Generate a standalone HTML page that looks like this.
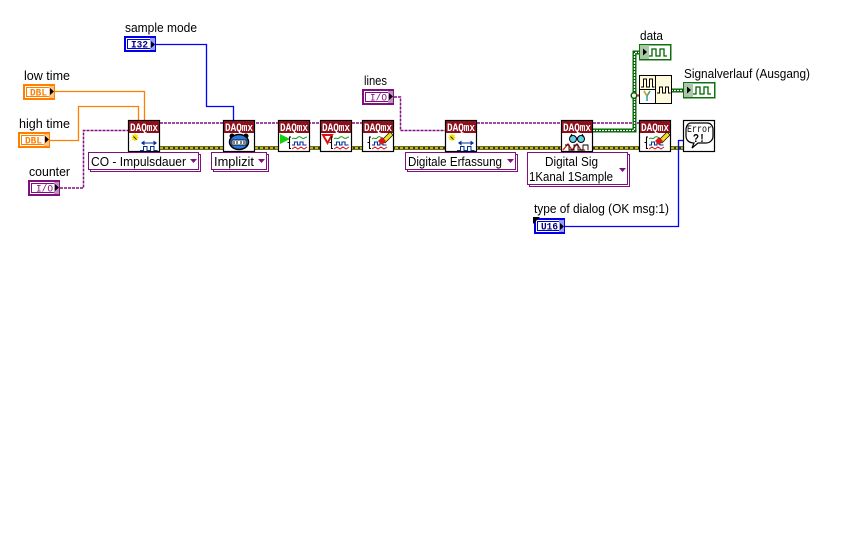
<!DOCTYPE html>
<html><head><meta charset="utf-8"><style>
html,body{margin:0;padding:0;background:#fff;width:864px;height:540px;overflow:hidden}
svg{display:block}
text{font-family:"Liberation Sans",sans-serif;font-size:12.5px;fill:#000}
.d{font-family:"Liberation Mono",monospace;font-size:11px;font-weight:bold;fill:#fff}
.t{font-family:"Liberation Mono",monospace;font-size:10px;font-weight:bold}
.w{fill:none}
</style></head><body>
<svg width="864" height="540" viewBox="0 0 864 540" xmlns="http://www.w3.org/2000/svg">
<defs>
<g id="n"><rect x="0.5" y="0.5" width="31" height="31" fill="#fff" stroke="#000" stroke-width="1.200"/><rect x="1" y="1" width="30" height="12" fill="#8c0f1c"/></g>
<g id="cfg"><path d="M7 14v7M3.500 17.500h7M4.500 15l5 5M9.500 15l-5 5" stroke="#f0e000" stroke-width="1.500"/><path d="M5.500 16.500l3 3" stroke="#000" stroke-width=".8"/><path d="M14 23h14" stroke="#00329a"/><path d="M13 23l3.500-2.500v5zM29 23l-3.500-2.500v5z" fill="#00329a"/><path d="M12 30.500h3.500v-4h3.500v4h3.500v-4h3.500v4h3.500" fill="none" stroke="#00329a" shape-rendering="crispEdges"/></g>
<g id="wv"><path d="M9 17h-1.500v5.500h-2h2v6h1.500" fill="none" stroke="#000" stroke-width="1.100"/><path d="M10 19c2-2.500 3 1 5-1s3-1.500 5 0 3-1 5-1" fill="none" stroke="#00a000"/><path d="M10 25h2.500v-3h3v3h2.500v-3h3v3h3.500" fill="none" stroke="#00329a" stroke-width="1.100"/><path d="M10 29l3-2 3 2 3-2 3 2 3-2" fill="none" stroke="#e01010"/></g>
<g id="eras"><path d="M20 20l8-8 3 3-8 8z" fill="#f4dc20" stroke="#000" stroke-width=".7"/><path d="M16 21l4-4 4 4-4 4z" fill="#d81818"/></g>
</defs>

<!-- error wires -->
<g class="w">
<path d="M160 148H639M671 148H683" stroke="#3a3a00" stroke-width="3.600"/>
<path d="M160 148H639M671 148H683" stroke="#f0e800" stroke-width="1.600" stroke-dasharray="3 2"/>
</g>

<!-- purple wires -->
<g class="w" stroke="#800f80" stroke-width="1.500" stroke-dasharray="3 1">
<path d="M160 123H362M477 123H639"/>
<path d="M60 188H83.500V130.500H128M394 97H400.500V130.500H445"/>
</g>

<!-- orange wires -->
<g class="w" stroke="#ff8000" stroke-width="1.300">
<path d="M55 91.500H144.500V120"/>
<path d="M50 140.500H78.500V106.500H138.500V120"/>
</g>
<!-- blue wires -->
<g class="w" stroke="#0000ff" stroke-width="1.300">
<path d="M156 44.500H206.500V106.500H233.500V120"/>
<path d="M565 226.500H678.500V140.500H683"/>
</g>

<!-- green waveform wires -->
<g class="w">
<path d="M593 130.500H634.500V52.500H640M671 90.500H684" stroke="#006400" stroke-width="4"/>
<path d="M593 130.500H634.500V52.500H640M671 90.500H684" stroke="#fff" stroke-width="1.300" stroke-dasharray="2 1"/>
</g>
<circle cx="634" cy="95.500" r="2.800" fill="#fff" stroke="#006400" stroke-width="1.500"/>
<path d="M637 95.500h3" stroke="#e01010" stroke-width="2"/>

<!-- labels -->
<text x="125" y="32" textLength="72" lengthAdjust="spacingAndGlyphs">sample mode</text>
<text x="24" y="80" textLength="46" lengthAdjust="spacingAndGlyphs">low time</text>
<text x="19" y="128" textLength="51" lengthAdjust="spacingAndGlyphs">high time</text>
<text x="29" y="176" textLength="41" lengthAdjust="spacingAndGlyphs">counter</text>
<text x="364" y="85" textLength="23" lengthAdjust="spacingAndGlyphs">lines</text>
<text x="640" y="40" textLength="23" lengthAdjust="spacingAndGlyphs">data</text>
<text x="684" y="78" textLength="126" lengthAdjust="spacingAndGlyphs">Signalverlauf (Ausgang)</text>
<text x="534" y="213" textLength="135" lengthAdjust="spacingAndGlyphs">type of dialog (OK msg:1)</text>

<!-- terminals -->
<g shape-rendering="crispEdges">
<rect x="125" y="37" width="30" height="14" fill="#fff" stroke="#0000e0" stroke-width="2"/><rect x="127.500" y="39.500" width="25" height="9" fill="#fff" stroke="#0000e0"/><rect x="150" y="38" width="5" height="12" fill="#9a9aff"/>
<rect x="24" y="85" width="30" height="14" fill="#fff" stroke="#ff8000" stroke-width="2"/><rect x="26.500" y="87.500" width="25" height="9" fill="#fff" stroke="#ff8000"/><rect x="49" y="86" width="5" height="12" fill="#ffc080"/>
<rect x="19" y="133" width="30" height="14" fill="#fff" stroke="#ff8000" stroke-width="2"/><rect x="21.500" y="135.500" width="25" height="9" fill="#fff" stroke="#ff8000"/><rect x="44" y="134" width="5" height="12" fill="#ffc080"/>
<rect x="29" y="181" width="30" height="14" fill="#fff" stroke="#800f80" stroke-width="2"/><rect x="31.500" y="183.500" width="25" height="9" fill="#fff" stroke="#800f80"/><rect x="54" y="182" width="5" height="12" fill="#c090c0"/>
<rect x="363" y="90" width="30" height="14" fill="#fff" stroke="#800f80" stroke-width="2"/><rect x="365.500" y="92.500" width="25" height="9" fill="#fff" stroke="#800f80"/><rect x="388" y="91" width="5" height="12" fill="#c090c0"/>
<rect x="535" y="219" width="29" height="14" fill="#fff" stroke="#0000e0" stroke-width="2"/><rect x="537.500" y="221.500" width="24" height="9" fill="#fff" stroke="#0000e0"/><rect x="559" y="220" width="5" height="12" fill="#9a9aff"/>
<rect x="639.500" y="44.500" width="31" height="15" fill="#fff" stroke="#107010" stroke-width="1.500"/><rect x="640" y="45" width="9" height="14" fill="#a8c8a8"/>
<rect x="683.500" y="82.500" width="31" height="15" fill="#fff" stroke="#107010" stroke-width="1.500"/><rect x="684" y="83" width="9" height="14" fill="#a8c8a8"/>
</g>
<text class="t" x="131" y="47.500" style="fill:#00008c" textLength="17" lengthAdjust="spacingAndGlyphs">I32</text>
<text class="t" x="30" y="95.500" style="fill:#ff8000" textLength="17" lengthAdjust="spacingAndGlyphs">DBL</text>
<text class="t" x="25" y="143.500" style="fill:#ff8000" textLength="17" lengthAdjust="spacingAndGlyphs">DBL</text>
<text class="t" x="36" y="191.500" style="fill:#800f80;font-weight:normal" textLength="17" lengthAdjust="spacingAndGlyphs">I/O</text>
<text class="t" x="370" y="100.500" style="fill:#800f80;font-weight:normal" textLength="17" lengthAdjust="spacingAndGlyphs">I/O</text>
<text class="t" x="541" y="229.500" style="fill:#00008c" textLength="17" lengthAdjust="spacingAndGlyphs">U16</text>
<path d="M533 217h7l-7 7z" fill="#000"/>
<path d="M151 41v7l4-3.500zM50 88v7l4-3.500zM45 136v7l4-3.500zM55 184v7l4-3.500zM389 93v7l4-3.500zM560 223v7l4-3.500zM643 48.500v7l4-3.500zM687 86.500v7l4-3.500z" fill="#000"/>
<path d="M649 56h3v-7h4v7h4v-7h4v7h3M693 94h3v-7h4v7h4v-7h4v7h3" fill="none" stroke="#006400" stroke-width="1.300"/>

<!-- DAQmx nodes -->
<g transform="translate(128,120)"><use href="#n"/><text class="d" x="2" y="11" textLength="28" lengthAdjust="spacingAndGlyphs">DAQmx</text><use href="#cfg"/></g>
<g transform="translate(223,120)"><use href="#n"/><text class="d" x="2" y="11" textLength="28" lengthAdjust="spacingAndGlyphs">DAQmx</text>
<circle cx="9" cy="16" r="2.500" fill="#000"/><circle cx="23" cy="16" r="2.500" fill="#000"/><ellipse cx="16" cy="22" rx="9.500" ry="7.500" fill="#2a7ae0" stroke="#000" stroke-width="1.500"/><rect x="9" y="20" width="14" height="5" fill="#fff" stroke="#000" stroke-width=".8"/><path d="M11 21v3M14 21v3M18 21v3M21 21v3" stroke="#000"/></g>
<g transform="translate(278,120)"><use href="#n"/><text class="d" x="2" y="11" textLength="28" lengthAdjust="spacingAndGlyphs">DAQmx</text><path d="M2 14l10 5-10 5z" fill="#10d010"/><use href="#wv" transform="translate(4,0)"/></g>
<g transform="translate(320,120)"><use href="#n"/><text class="d" x="2" y="11" textLength="28" lengthAdjust="spacingAndGlyphs">DAQmx</text><path d="M3 15h9l-4.500 8z" fill="#fff" stroke="#e01010" stroke-width="2"/><use href="#wv" transform="translate(4,0)"/></g>
<g transform="translate(362,120)"><use href="#n"/><text class="d" x="2" y="11" textLength="28" lengthAdjust="spacingAndGlyphs">DAQmx</text><use href="#wv"/><use href="#eras"/></g>
<g transform="translate(445,120)"><use href="#n"/><text class="d" x="2" y="11" textLength="28" lengthAdjust="spacingAndGlyphs">DAQmx</text><use href="#cfg"/></g>
<g transform="translate(561,120)"><use href="#n"/><text class="d" x="2" y="11" textLength="28" lengthAdjust="spacingAndGlyphs">DAQmx</text>
<circle cx="12" cy="19" r="3.500" fill="#60d0e8" stroke="#000"/><circle cx="20" cy="19" r="3.500" fill="#60d0e8" stroke="#000"/><path d="M15 18h2M9 17l2-3M23 17l-2-3" stroke="#000" fill="none"/>
<path d="M2 30l5-6 4 6 5-6 4 6h4" fill="none" stroke="#e01010" stroke-width="1.300"/><path d="M4 25h4v5h5v-5h4v5h5v-5h5v5" fill="none" stroke="#000" stroke-width=".9"/></g>
<g transform="translate(639,120)"><use href="#n"/><text class="d" x="2" y="11" textLength="28" lengthAdjust="spacingAndGlyphs">DAQmx</text><use href="#wv"/><use href="#eras"/></g>

<!-- Error dialog -->
<rect x="683.500" y="120.500" width="31" height="31" fill="#fff" stroke="#000" stroke-width="1.200"/>
<path d="M691 123h16c4 0 6 3 6 7v6c0 4-3 7-7 7h-8l-6 5 2-5c-5 0-8-3-8-7v-6c0-4 2-7 5-7z" fill="#fff" stroke="#000" stroke-width="1.200"/>
<text class="t" x="687" y="132" style="font-size:10px;font-weight:normal" textLength="25" lengthAdjust="spacingAndGlyphs">Error</text>
<text class="t" x="693" y="142" style="font-size:12px" textLength="12" lengthAdjust="spacingAndGlyphs">?!</text>

<!-- Waveform build -->
<g shape-rendering="crispEdges">
<rect x="639.500" y="75.500" width="32" height="28" fill="#fffadc" stroke="#000"/>
<rect x="640" y="90" width="15" height="13" fill="#fff"/>
<path d="M655.500 75.500v28M639.500 89.500h16" stroke="#000" fill="none"/>
<path d="M641 87h2.500v-8h3v8h3v-8h3v8h2" stroke="#000" fill="none"/>
<path d="M657 93h2.500v-6h3v6h3v-6h3v6h2" stroke="#000" fill="none"/>
</g>
<path d="M644 91l3 5v5M650 91l-3 5" fill="none" stroke="#20a0a0" stroke-width="1.500"/><path d="M644 91l3 5" stroke="#e0a000" stroke-width="1.500"/>

<!-- Rings -->
<g shape-rendering="crispEdges" fill="#fff" stroke="#800f80">
<rect x="90.500" y="154.500" width="110" height="17"/><rect x="88.500" y="152.500" width="110" height="17"/>
<rect x="213.500" y="154.500" width="55" height="17"/><rect x="211.500" y="152.500" width="55" height="17"/>
<rect x="407.500" y="154.500" width="110" height="17"/><rect x="405.500" y="152.500" width="110" height="17"/>
<rect x="529.500" y="154.500" width="100" height="32"/><rect x="527.500" y="152.500" width="100" height="32"/>
</g>
<path d="M190 159h7l-3.500 4zM258 159h7l-3.500 4zM507 159h7l-3.500 4zM619 168h7l-3.500 4z" fill="#800f80"/>
<text x="91" y="166" textLength="95" lengthAdjust="spacingAndGlyphs">CO - Impulsdauer</text>
<text x="214" y="166" textLength="40" lengthAdjust="spacingAndGlyphs">Implizit</text>
<text x="408" y="166" textLength="94" lengthAdjust="spacingAndGlyphs">Digitale Erfassung</text>
<text x="545" y="166" textLength="53" lengthAdjust="spacingAndGlyphs">Digital Sig</text>
<text x="529" y="181" textLength="84" lengthAdjust="spacingAndGlyphs">1Kanal 1Sample</text>
</svg>
</body></html>
